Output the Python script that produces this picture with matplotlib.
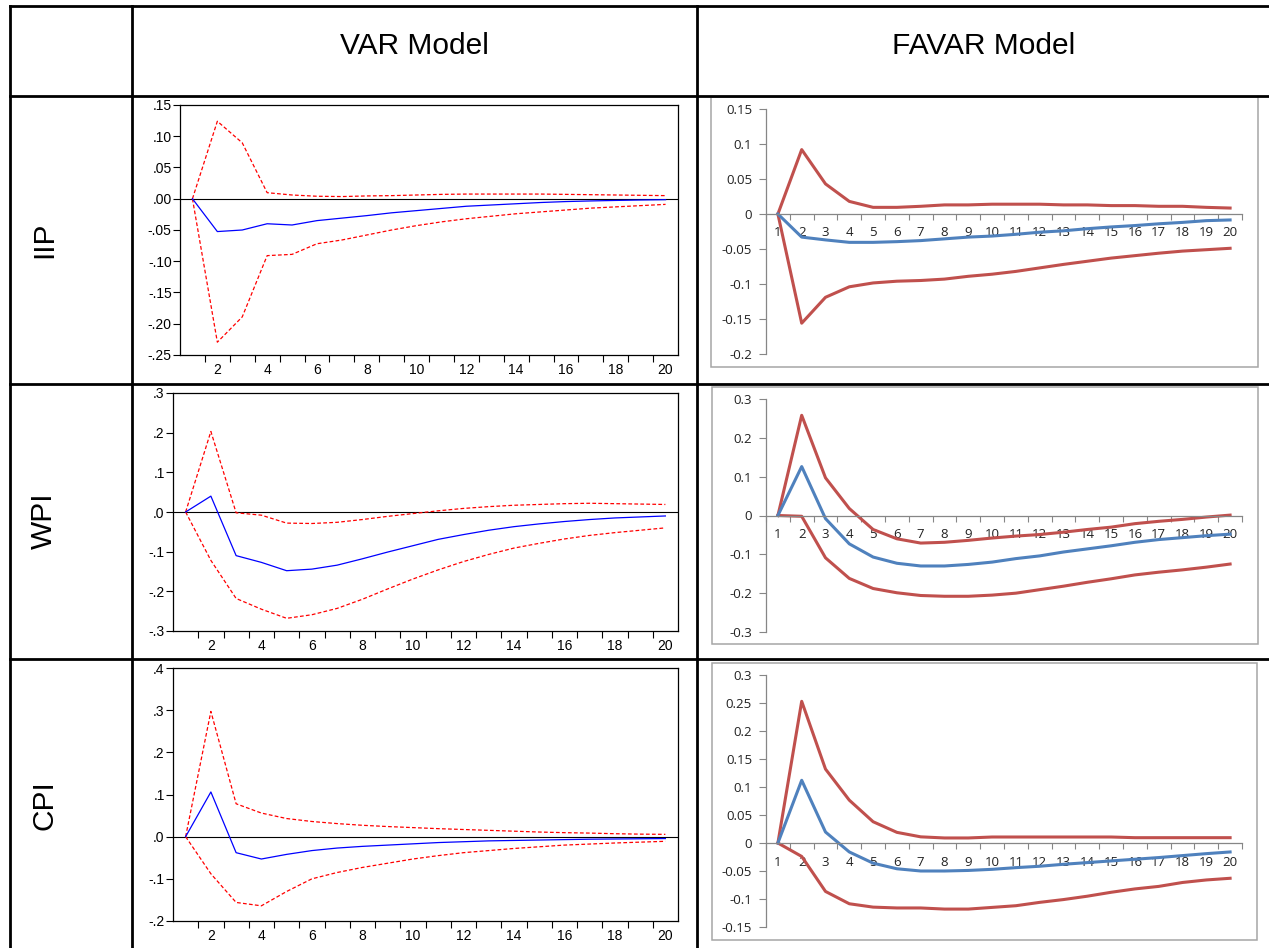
import numpy as np
import matplotlib.pyplot as plt
from matplotlib.lines import Line2D

W, H = 1269, 948

#---periods-----
periods = np.arange(1, 21)

#---VAR model: IIP-----
var_iip_resp = [0, -0.0525, -0.050, -0.040, -0.042, -0.035, -0.031, -0.027, -0.0225, -0.019,
                -0.0155, -0.012, -0.010, -0.008, -0.006, -0.0045, -0.0035, -0.0027, -0.002, -0.0015]
var_iip_up = [0, 0.124, 0.0895, 0.0097, 0.006, 0.004, 0.0035, 0.0045, 0.005, 0.006,
              0.007, 0.0075, 0.0075, 0.0075, 0.0075, 0.007, 0.0065, 0.006, 0.0055, 0.005]
var_iip_lo = [0, -0.2295, -0.189, -0.091, -0.089, -0.072, -0.066, -0.058, -0.050, -0.043,
              -0.037, -0.032, -0.028, -0.024, -0.021, -0.018, -0.015, -0.013, -0.011, -0.009]

#---VAR model: WPI-----
var_wpi_resp = [0, 0.040, -0.110, -0.127, -0.148, -0.144, -0.134, -0.118, -0.101, -0.085,
                -0.069, -0.057, -0.046, -0.037, -0.030, -0.024, -0.019, -0.015, -0.0125, -0.010]
var_wpi_up = [0, 0.203, -0.002, -0.008, -0.028, -0.029, -0.026, -0.019, -0.011, -0.004,
              0.003, 0.009, 0.0135, 0.017, 0.019, 0.021, 0.022, 0.021, 0.020, 0.019]
var_wpi_lo = [0, -0.122, -0.218, -0.245, -0.268, -0.259, -0.243, -0.220, -0.194, -0.169,
              -0.146, -0.125, -0.107, -0.091, -0.079, -0.068, -0.059, -0.052, -0.046, -0.040]

#---VAR model: CPI-----
var_cpi_resp = [0, 0.106, -0.038, -0.053, -0.042, -0.033, -0.027, -0.023, -0.020, -0.017,
                -0.014, -0.012, -0.010, -0.009, -0.008, -0.007, -0.006, -0.0055, -0.005, -0.0045]
var_cpi_up = [0, 0.297, 0.078, 0.056, 0.043, 0.036, 0.031, 0.027, 0.024, 0.0215,
              0.019, 0.017, 0.015, 0.013, 0.011, 0.0095, 0.0085, 0.007, 0.006, 0.0055]
var_cpi_lo = [0, -0.088, -0.156, -0.164, -0.130, -0.100, -0.085, -0.073, -0.063, -0.053,
              -0.045, -0.038, -0.033, -0.028, -0.024, -0.020, -0.0175, -0.015, -0.013, -0.011]

#---FAVAR model: IIP-----
fav_iip_resp = [0, -0.033, -0.037, -0.0405, -0.0405, -0.0395, -0.038, -0.0355, -0.033, -0.0315,
                -0.029, -0.026, -0.024, -0.021, -0.0185, -0.0165, -0.014, -0.012, -0.0095, -0.0085]
fav_iip_up = [0, 0.092, 0.043, 0.018, 0.0095, 0.0095, 0.011, 0.013, 0.013, 0.014,
              0.014, 0.014, 0.013, 0.013, 0.012, 0.012, 0.011, 0.011, 0.0095, 0.0085]
fav_iip_lo = [0, -0.156, -0.119, -0.104, -0.0985, -0.096, -0.095, -0.093, -0.089, -0.086,
              -0.082, -0.077, -0.072, -0.0675, -0.063, -0.0595, -0.056, -0.053, -0.051, -0.049]

#---FAVAR model: WPI-----
fav_wpi_resp = [0, 0.126, -0.008, -0.073, -0.107, -0.123, -0.130, -0.130, -0.126, -0.120,
                -0.111, -0.104, -0.094, -0.086, -0.078, -0.069, -0.062, -0.057, -0.052, -0.048]
fav_wpi_up = [0, 0.258, 0.097, 0.018, -0.036, -0.060, -0.071, -0.069, -0.064, -0.058,
              -0.053, -0.049, -0.043, -0.036, -0.030, -0.021, -0.015, -0.010, -0.004, 0.001]
fav_wpi_lo = [0, -0.002, -0.109, -0.162, -0.188, -0.199, -0.206, -0.208, -0.208, -0.205,
              -0.200, -0.191, -0.182, -0.172, -0.163, -0.153, -0.146, -0.140, -0.133, -0.125]

#---FAVAR model: CPI-----
fav_cpi_resp = [0, 0.112, 0.0196, -0.016, -0.036, -0.046, -0.050, -0.050, -0.049, -0.047,
                -0.044, -0.0415, -0.038, -0.035, -0.032, -0.029, -0.026, -0.0225, -0.019, -0.016]
fav_cpi_up = [0, 0.253, 0.132, 0.0765, 0.038, 0.019, 0.011, 0.009, 0.009, 0.0107,
              0.0107, 0.0107, 0.0107, 0.0107, 0.0107, 0.0095, 0.0095, 0.0095, 0.0095, 0.0095]
fav_cpi_lo = [0, -0.024, -0.0865, -0.1085, -0.1145, -0.116, -0.116, -0.118, -0.118, -0.115,
              -0.112, -0.106, -0.101, -0.095, -0.088, -0.082, -0.0775, -0.0705, -0.066, -0.063]

#---tick labels-----
var_iip_ticks = [0.15, 0.10, 0.05, 0.0, -0.05, -0.10, -0.15, -0.20, -0.25]
var_iip_labels = ['.15', '.10', '.05', '.00', '-.05', '-.10', '-.15', '-.20', '-.25']
var_wpi_ticks = [0.3, 0.2, 0.1, 0.0, -0.1, -0.2, -0.3]
var_wpi_labels = ['.3', '.2', '.1', '.0', '-.1', '-.2', '-.3']
var_cpi_ticks = [0.4, 0.3, 0.2, 0.1, 0.0, -0.1, -0.2]
var_cpi_labels = ['.4', '.3', '.2', '.1', '.0', '-.1', '-.2']
fav_iip_ticks = [0.15, 0.1, 0.05, 0, -0.05, -0.1, -0.15, -0.2]
fav_iip_labels = ['0.15', '0.1', '0.05', '0', '-0.05', '-0.1', '-0.15', '-0.2']
fav_wpi_ticks = [0.3, 0.2, 0.1, 0, -0.1, -0.2, -0.3]
fav_wpi_labels = ['0.3', '0.2', '0.1', '0', '-0.1', '-0.2', '-0.3']
fav_cpi_ticks = [0.3, 0.25, 0.2, 0.15, 0.1, 0.05, 0, -0.05, -0.1, -0.15]
fav_cpi_labels = ['0.3', '0.25', '0.2', '0.15', '0.1', '0.05', '0', '-0.05', '-0.1', '-0.15']

row_names = ['IIP', 'WPI', 'CPI']
col_names = ['VAR Model', 'FAVAR Model']

plt.rcParams['font.family'] = ['Liberation Sans', 'DejaVu Sans']
fig = plt.figure(figsize=(W / 100, H / 100), dpi=100)


def box(l, t, r, b):
    return [l / W, 1 - b / H, (r - l) / W, (b - t) / H]


def var_panel(rect, resp, up, lo, ticks, labels):
    ax = fig.add_axes(box(*rect))
    ax.axhline(0, color='black', lw=0.8)
    ax.plot(periods, up, color='#ff0000', lw=0.9, ls=(0, (3, 1.8)))
    ax.plot(periods, lo, color='#ff0000', lw=0.9, ls=(0, (3, 1.8)))
    ax.plot(periods, resp, color='#0000ff', lw=0.9)
    ax.set_xlim(0.5, 20.5)
    ax.set_ylim(min(ticks), max(ticks))
    ax.set_yticks(ticks)
    ax.set_yticklabels(labels)
    ax.set_xticks(np.arange(2, 21, 2))
    ax.set_xticks(np.arange(1.5, 20.5, 1), minor=True)
    ax.tick_params(axis='x', which='major', length=0, pad=6, labelsize=10)
    ax.tick_params(axis='x', which='minor', length=5, width=0.8, direction='out')
    ax.tick_params(axis='y', length=5, width=0.8, direction='out', labelsize=10, pad=1)
    for s in ax.spines.values():
        s.set_linewidth(0.9)
    return ax


def favar_panel(rect, frame, resp, up, lo, ticks, labels):
    fl, ft, fr, fb = frame
    fig.add_artist(plt.Rectangle((fl / W, 1 - fb / H), (fr - fl) / W, (fb - ft) / H,
                                 transform=fig.transFigure, fill=False,
                                 edgecolor='#a6a6a6', lw=1.1))
    ax = fig.add_axes(box(*rect))
    ax.plot(periods, up, color='#c0504d', lw=2.2)
    ax.plot(periods, lo, color='#c0504d', lw=2.2)
    ax.plot(periods, resp, color='#4f81bd', lw=2.2)
    ax.set_xlim(0.5, 20.5)
    ax.set_ylim(min(ticks), max(ticks))
    ax.set_yticks(ticks)
    ax.set_yticklabels(labels)
    ax.spines['top'].set_visible(False)
    ax.spines['right'].set_visible(False)
    ax.spines['bottom'].set_position(('data', 0))
    for s in ['left', 'bottom']:
        ax.spines[s].set_color('#868686')
        ax.spines[s].set_linewidth(0.9)
    ax.set_xticks(periods)
    ax.set_xticks(np.arange(0.5, 21, 1), minor=True)
    ax.tick_params(axis='x', which='major', length=0, pad=9, labelsize=9.5, labelcolor='#222222')
    ax.tick_params(axis='x', which='minor', length=4, width=0.8, color='#868686', direction='out')
    ax.tick_params(axis='y', length=5, width=0.8, color='#868686', direction='out',
                   labelsize=9.5, labelcolor='#222222', pad=5)
    for t in ax.get_xticklabels() + ax.get_yticklabels():
        t.set_family(['Open Sans', 'DejaVu Sans'])
    return ax


#---VAR column-----
var_panel((180, 105, 678, 355), var_iip_resp, var_iip_up, var_iip_lo, var_iip_ticks, var_iip_labels)
var_panel((173, 393, 678, 631), var_wpi_resp, var_wpi_up, var_wpi_lo, var_wpi_ticks, var_wpi_labels)
var_panel((173, 668, 678, 921), var_cpi_resp, var_cpi_up, var_cpi_lo, var_cpi_ticks, var_cpi_labels)

#---FAVAR column-----
favar_panel((766, 109, 1242, 354), (711, 97, 1258, 367),
            fav_iip_resp, fav_iip_up, fav_iip_lo, fav_iip_ticks, fav_iip_labels)
favar_panel((766, 399, 1242, 632), (712, 387, 1258, 644),
            fav_wpi_resp, fav_wpi_up, fav_wpi_lo, fav_wpi_ticks, fav_wpi_labels)
favar_panel((766, 675, 1242, 927), (712, 663, 1257, 940),
            fav_cpi_resp, fav_cpi_up, fav_cpi_lo, fav_cpi_ticks, fav_cpi_labels)

#---table grid-----
lw_grid = 2.0
for y in [6, 96, 384, 659]:
    fig.add_artist(Line2D([10 / W, 1], [1 - y / H, 1 - y / H], color='black', lw=lw_grid))
for x in [10, 132, 697]:
    fig.add_artist(Line2D([x / W, x / W], [1 - 6 / H, 0], color='black', lw=lw_grid))

#---headers-----
fig.text(414 / W, 1 - 46 / H, col_names[0], ha='center', va='center', fontsize=21.5)
fig.text(984 / W, 1 - 46 / H, col_names[1], ha='center', va='center', fontsize=21.5)
for name, yc in zip(row_names, [240, 521, 805]):
    fig.text(44 / W, 1 - yc / H, name, ha='center', va='center', rotation=90, fontsize=21.5)

fig.savefig('out.png', dpi=100)
